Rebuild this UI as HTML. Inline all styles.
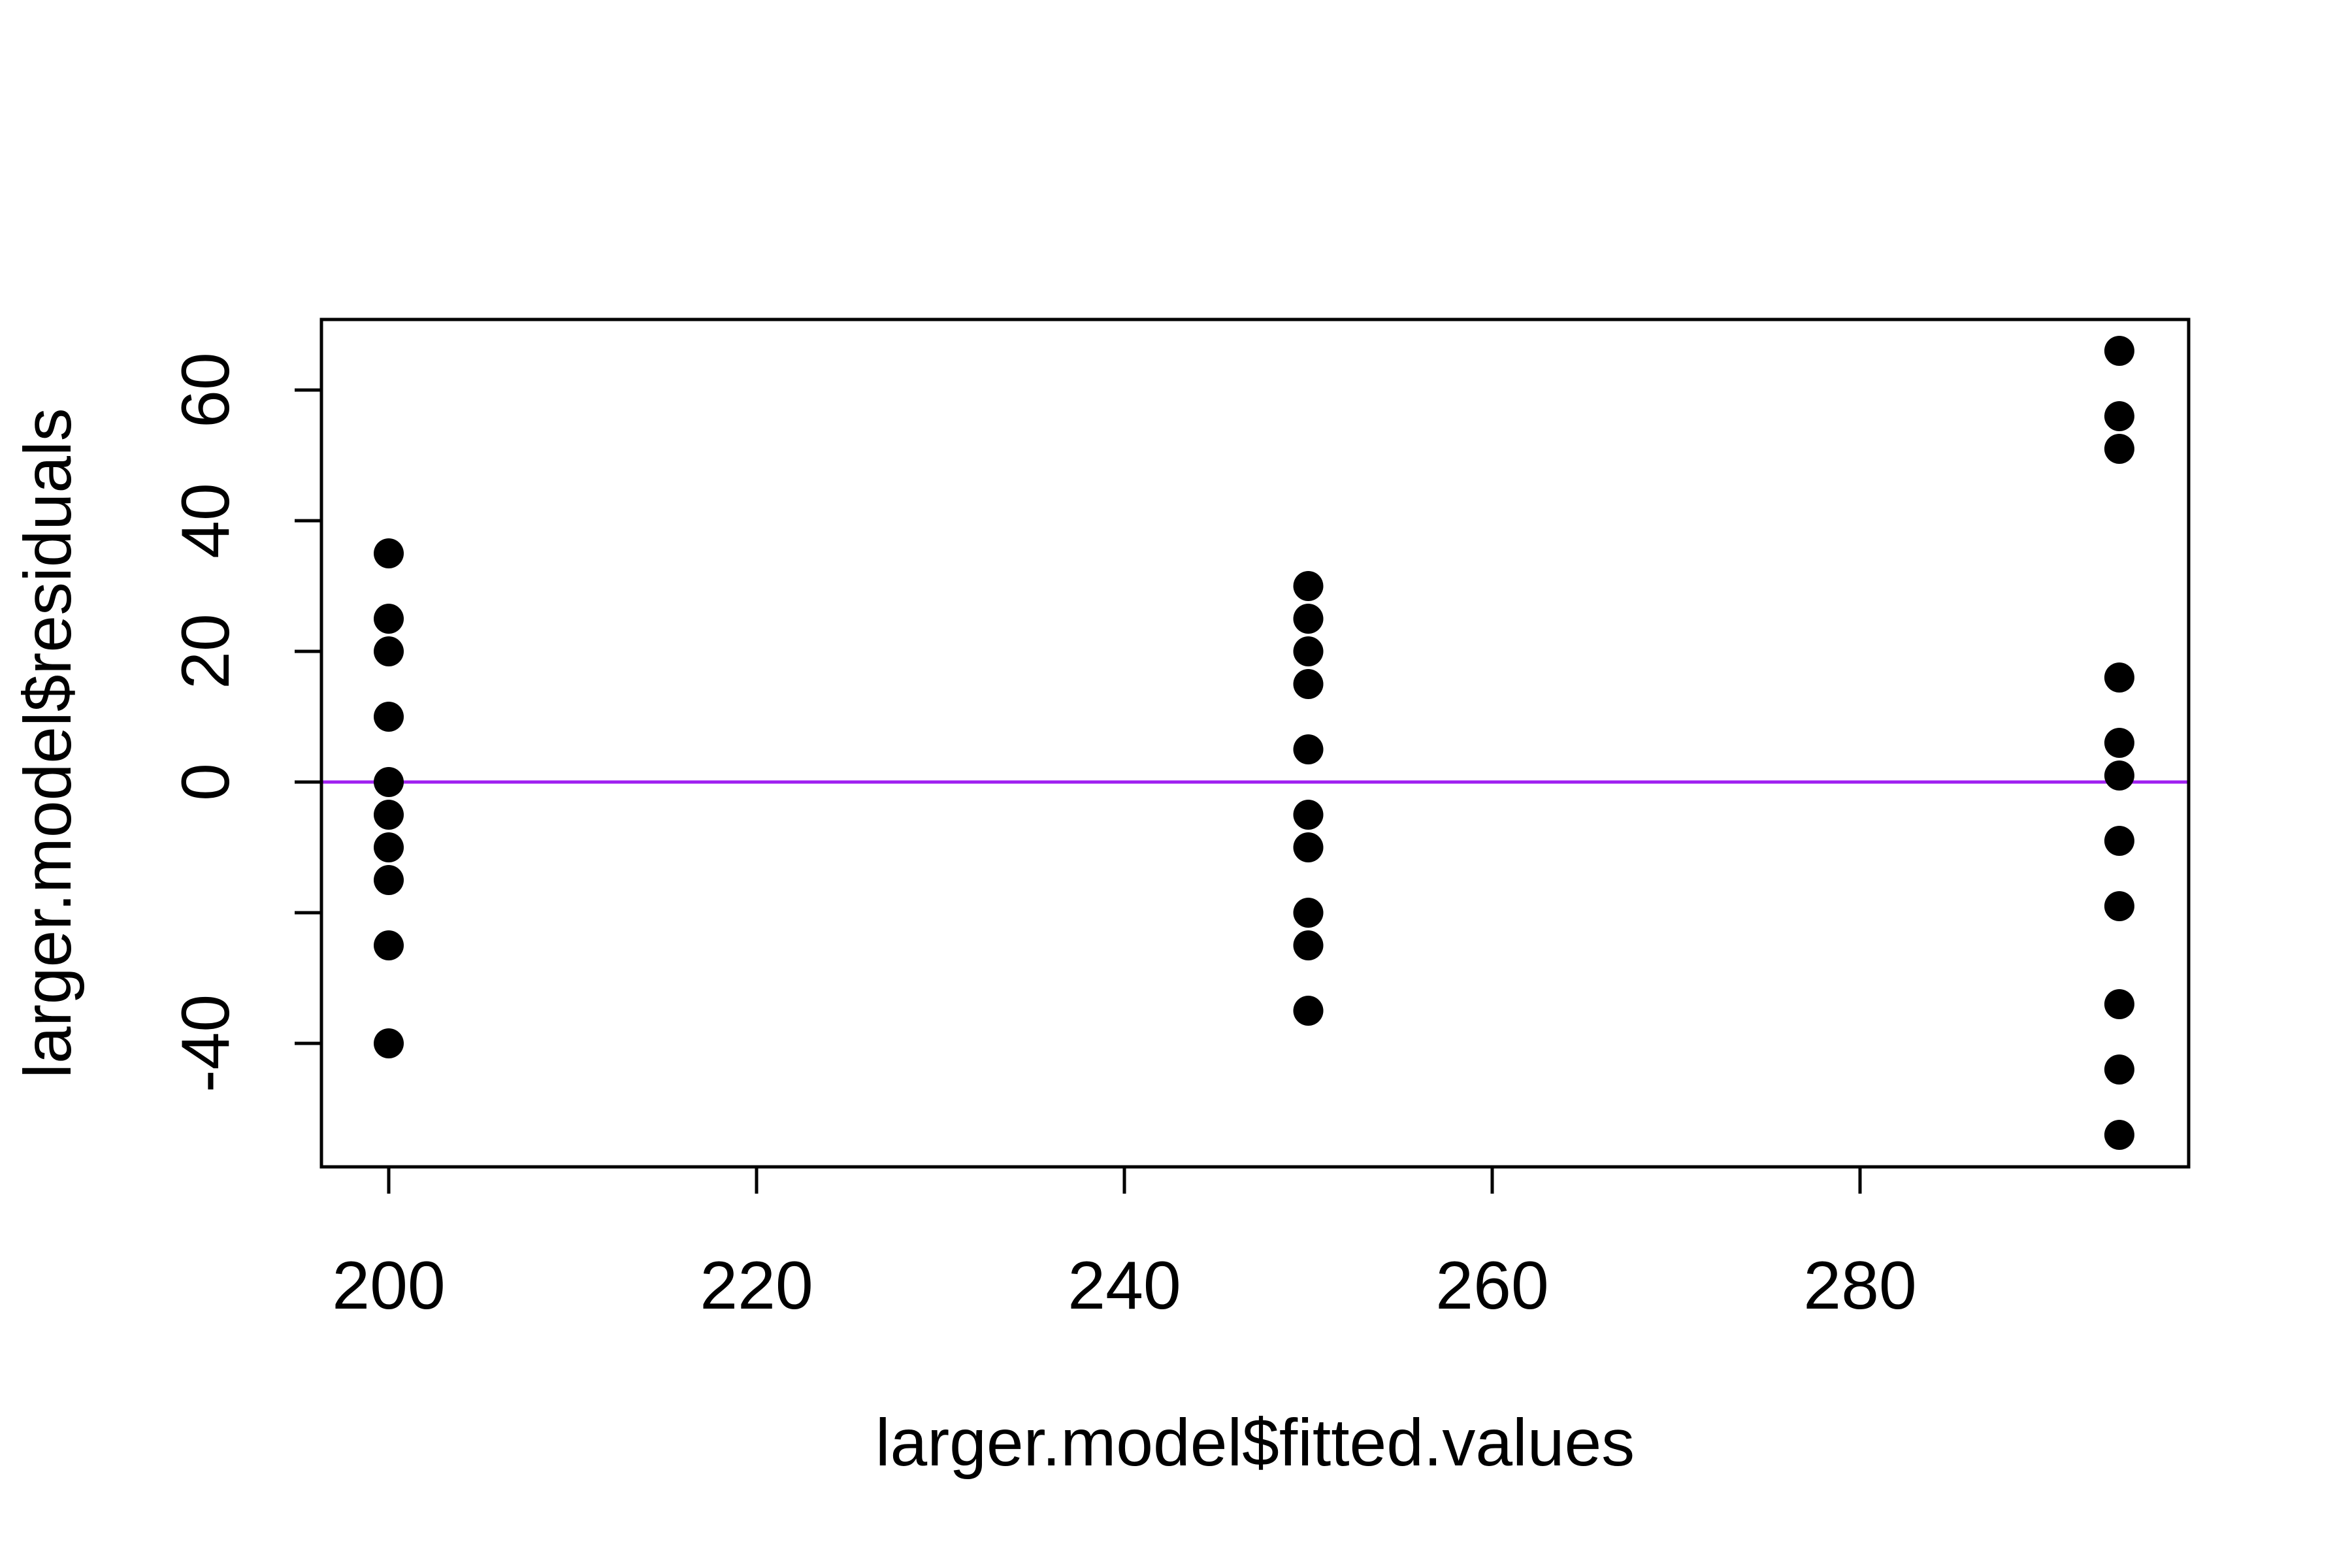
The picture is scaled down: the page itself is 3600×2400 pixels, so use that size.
<!DOCTYPE html>
<html><head><meta charset="utf-8"><style>
html,body{margin:0;padding:0;background:#fff;}
svg{display:block;font-family:"Liberation Sans",Arial,sans-serif;}
</style></head><body>
<svg id="chart" width="3600" height="2400" viewBox="0 0 3600 2400">
<rect width="3600" height="2400" fill="#fff"/>
<g id="marks"></g>
<g id="axes"></g>
</svg>
<script>
const xTicks = [200, 220, 240, 260, 280];
const yTicks = [-40, -20, 0, 20, 40, 60];
const yTickLabels = ["-40", "", "0", "20", "40", "60"];
const groupFitted = [200, 250, 294.1];
const residuals200 = [35, 25, 20, 10, 0, -5, -10, -15, -25, -40];
const residuals250 = [30, 25, 20, 15, 5, -5, -10, -20, -25, -35];
const residuals294 = [66, 56, 51, 16, 6, 1, -9, -19, -34, -44, -54];

const L = 492, R = 3350, T = 489, B = 1786;
function xs(v){ return 595 + (v - 200) / 20 * 563; }
function ys(v){ return 1197 - v / 20 * 200; }
const NS = "http://www.w3.org/2000/svg";
function mk(tag, attrs, parent){ const e = document.createElementNS(NS, tag); for (const k in attrs) e.setAttribute(k, attrs[k]); parent.appendChild(e); return e; }
const axes = document.getElementById('axes'), marks = document.getElementById('marks');

const zl = mk('line', {x1:L, x2:R, y1:ys(0), y2:ys(0), stroke:'#A020F0', 'stroke-width':5}, marks);



const groups = [residuals200, residuals250, residuals294];
groups.forEach((arr, gi) => {
  arr.forEach((r, i) => {
    const c = mk('circle', {cx:xs(groupFitted[gi]), cy:ys(r), r:23, fill:'#000'}, marks);
    
    
  });
});

const box = mk('rect', {x:L, y:T, width:R-L, height:B-T, fill:'none', stroke:'#000', 'stroke-width':5}, axes);



mk('line', {x1:xs(xTicks[0]), x2:xs(xTicks[xTicks.length-1]), y1:B, y2:B, stroke:'#000', 'stroke-width':5}, axes);
xTicks.forEach(t => {
  const tl = mk('line', {x1:xs(t), x2:xs(t), y1:B, y2:B+41, stroke:'#000', 'stroke-width':5}, axes);
  
  
  const tx = mk('text', {x:xs(t), y:2003, 'font-size':104, 'text-anchor':'middle'}, axes);
  tx.textContent = t;
  
  
});
yTicks.forEach((t, i) => {
  const tl = mk('line', {x1:L, x2:L-41, y1:ys(t), y2:ys(t), stroke:'#000', 'stroke-width':5}, axes);
  
  
  if (yTickLabels[i]) {
    const tx = mk('text', {x:0, y:0, 'font-size':104, 'text-anchor':'middle', transform:`translate(350,${ys(t)}) rotate(-90)`}, axes);
    tx.textContent = yTickLabels[i];
    
    
  }
});
mk('line', {x1:L, x2:L, y1:ys(yTicks[0]), y2:ys(yTicks[yTicks.length-1]), stroke:'#000', 'stroke-width':5}, axes);

const xt = mk('text', {x:(L+R)/2, y:2243, 'font-size':102, 'text-anchor':'middle'}, axes);
xt.textContent = 'larger.model$fitted.values';


const yt = mk('text', {x:0, y:0, 'font-size':102, 'text-anchor':'middle', transform:`translate(108,${(T+B)/2}) rotate(-90)`}, axes);
yt.textContent = 'larger.model$residuals';


</script>
</body></html>
